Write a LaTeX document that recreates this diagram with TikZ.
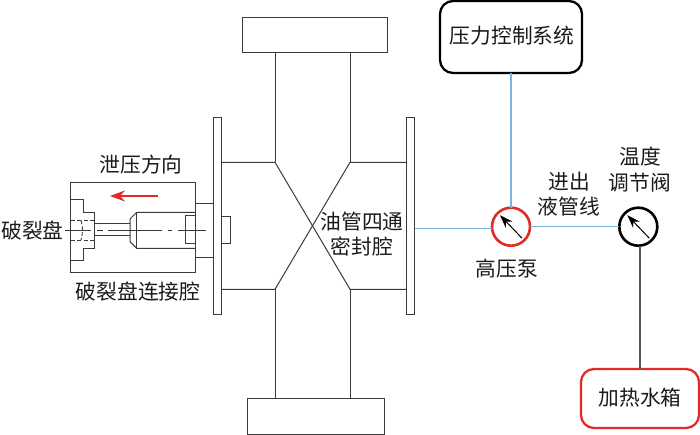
\documentclass[tikz,border=0pt]{standalone}
\usepackage{fontspec}
\setmainfont{Noto Sans CJK SC}
\usetikzlibrary{arrows.meta}
\definecolor{ink}{HTML}{3A3A3A}
\definecolor{txt}{HTML}{1A1A1A}
\definecolor{pipeblue}{HTML}{7AB3DC}
\definecolor{alarm}{HTML}{E02B27}
\definecolor{hotline}{HTML}{555555}
\tikzset{
  x=1bp,y=-1bp,
  part/.style={draw=ink,line width=1bp,line join=miter},
  thin part/.style={draw=ink,line width=0.9bp},
  block/.style={part,fill=white,inner sep=0pt,outer sep=0pt},
  label/.style={inner sep=0pt,outer sep=0pt,text=txt,font=\fontsize{20.8}{24}\selectfont,align=center},
  sysbox/.style={draw,rounded corners=13bp,fill=white,inner sep=0pt,outer sep=0pt,line width=2.3bp},
  gauge/.style={circle,draw,fill=white,inner sep=0pt,outer sep=0pt,minimum size=38bp,line width=2.6bp},
  needle/.style={line width=1bp,black,-{Stealth[length=13bp,width=9bp]}},
  pipe/.style={pipeblue,line width=1.3bp},
}
\begin{document}
\begin{tikzpicture}
\useasboundingbox (0,0) rectangle (700,435);
% caps
\node[block,minimum width=145bp,minimum height=35bp] (topcap) at (314.5,35.5) {};
\node[block,minimum width=137bp,minimum height=36bp] (botcap) at (315.5,416) {};
% flanges
\node[block,minimum width=8bp,minimum height=197bp] (lf) at (217.3,215.8) {};
\node[block,minimum width=8bp,minimum height=197bp] (rf) at (410.7,215.8) {};
% body
\coordinate (a) at (275,162.3);
\coordinate (b) at (350,162.3);
\coordinate (c) at (275,289.3);
\coordinate (d) at (350,289.3);
\draw[part] (lf.east |- a) -- (a) -- (d) -- (rf.west |- d);
\draw[part] (rf.west |- b) -- (b) -- (c) -- (lf.east |- c);
\draw[part] (a) -- (a |- topcap.south);
\draw[part] (b) -- (b |- topcap.south);
\draw[part] (c) -- (c |- botcap.north);
\draw[part] (d) -- (d |- botcap.north);
\node[block,minimum width=9.2bp,minimum height=27.4bp] (stub) at (225.9,230) {};
% rupture disc chamber
\node[block,minimum width=17.6bp,minimum height=54.4bp] (adapter) at (204.5,230.5) {};
\node[block,minimum width=125bp,minimum height=89.6bp] (chamber) at (133.2,227.5) {};
\draw[part] (195.7,216) -- (185,216) -- (185,244) -- (195.7,244);
\draw[part] (70.7,200) -- (83.3,200) -- (83.3,212.3) -- (94.7,212.3) -- (94.7,248.3) -- (83.3,248.3) -- (83.3,260.7) -- (70.7,260.7);
\draw[part] (94.7,223.3) -- (130,223.3);
\draw[part] (94.7,235.7) -- (130,235.7);
\draw[part] (195.7,212.3) -- (136.7,212.3) -- (130,219) -- (130,241.7) -- (136.7,248.3) -- (195.7,248.3);
\draw[part] (136.7,212.3) -- (136.7,248.3);
\draw[thin part,dash pattern=on 4bp off 2.5bp] (70.7,220.3) -- (94.7,220.3);
\draw[thin part,dash pattern=on 4bp off 2.5bp] (70.7,240) -- (94.7,240);
\draw[thin part,dash pattern=on 4bp off 2bp] (81,220.3) .. controls (83,227) and (83,233) .. (81,240);
\draw[thin part,dash pattern=on 26bp off 6bp on 6bp off 5bp on 54bp off 6bp on 4bp off 6bp on 28bp off 10bp] (65,230.3) -- (206,230.3);
\coordinate (arrowstart) at (158,196);
\coordinate (arrowend) at (110,196);
\draw[alarm,line width=1.2bp,-{Stealth[length=15bp,width=11bp]}] (arrowstart) -- (arrowend);
% system boxes and gauges
\node[sysbox,draw=black,minimum width=142bp,minimum height=72bp] (ctrl) at (511,37) {};
\node[sysbox,draw=alarm,minimum width=118bp,minimum height=59bp] (heater) at (640,398.5) {};
\node[gauge,draw=alarm] (pump) at (511,226.7) {};
\node[gauge,draw=black] (valve) at (638.3,226.7) {};
\coordinate (port) at (414.7,228.3);
\draw[pipe] (ctrl.south) -- (pump.north);
\draw[pipe] (port) -- (port -| pump.west);
\draw[pipe] (pump.east) -- (valve.west);
\draw[hotline,line width=1.6bp] (valve.south -| heater.north) -- (heater.north);
\draw[needle] (pump.center) ++(11,11.5) -- ++(-22,-23);
\draw[needle] (valve.center) ++(11,11.5) -- ++(-22,-23);
% labels
\node[label] (t1) at (141,165) {泄压方向};
\node[label] (t2) at (32.5,230.5) {破裂盘};
\node[label] (t3) at (138,292) {破裂盘连接腔};
\node[label] (t4) at (362,222) {油管四通};
\node[label] (t5) at (362,247) {密封腔};
\node[label] (t6) at (507,269) {高压泵};
\node[label] (t7) at (569,182) {进出};
\node[label] (t8) at (569,207) {液管线};
\node[label] (t9) at (640,157) {温度};
\node[label] (t10) at (640,183) {调节阀};
\node[label] (t11) at (512,36) {压力控制系统};
\node[label] (t12) at (640,398) {加热水箱};
\end{tikzpicture}
\end{document}
